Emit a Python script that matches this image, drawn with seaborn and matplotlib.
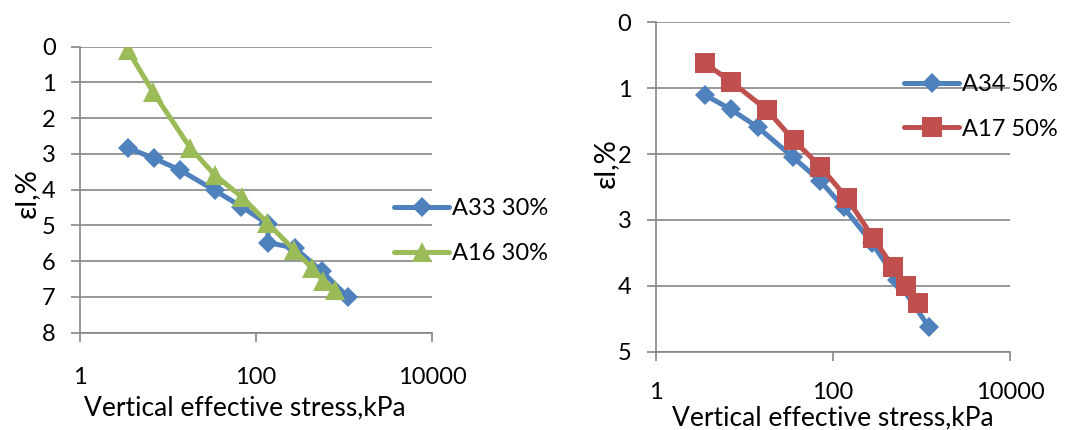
import matplotlib
matplotlib.use("Agg")
import matplotlib.pyplot as plt
import seaborn as sns
import pandas as pd
from matplotlib.ticker import FixedLocator, FixedFormatter, NullLocator

# ---- data ----
x_ticks = [1, 100, 10000]
x_tick_labels = ["1", "100", "10000"]

left_yticks = [0, 1, 2, 3, 4, 5, 6, 7, 8]
right_yticks = [0, 1, 2, 3, 4, 5]

a33_x = [3.5, 6.9, 13.7, 34, 68, 138, 136, 277, 558, 1120]
a33_y = [2.83, 3.12, 3.45, 4.02, 4.47, 4.97, 5.48, 5.63, 6.28, 7.01]
a16_x = [3.5, 6.8, 17.8, 34, 69, 135, 272, 430, 582, 790]
a16_y = [0.10, 1.28, 2.82, 3.59, 4.20, 4.93, 5.69, 6.18, 6.55, 6.80]

a34_x = [3.56, 7.0, 14.1, 35.5, 72, 132, 275, 525, 1200]
a34_y = [1.10, 1.32, 1.59, 2.05, 2.41, 2.81, 3.35, 3.91, 4.62]
a17_x = [3.56, 7.1, 18, 36, 72, 144, 286, 473, 668, 919]
a17_y = [0.62, 0.90, 1.33, 1.79, 2.19, 2.67, 3.28, 3.71, 4.01, 4.26]

x_label = "Vertical effective stress,kPa"
y_label = "\u03b5l,%"

BLUE = "#4F81BD"
GREEN = "#9BBB59"
RED = "#C0504D"
GRID = "#868686"

sns.set_theme(style="white")
plt.rcParams["font.family"] = ["Lato", "DejaVu Sans"]
FS = 17
FS_LAB = 19
FS_YLAB = 21

fig = plt.figure(figsize=(10.66, 4.30), dpi=100)
W, H = 1066, 430


def ax_rect(x0, x1, ytop, ybot):
    return [x0 / W, 1 - ybot / H, (x1 - x0) / W, (ybot - ytop) / H]


ax1 = fig.add_axes(ax_rect(80, 432, 46.7, 332.7))
ax2 = fig.add_axes(ax_rect(655.7, 1010.3, 22.3, 351.7))


def draw(ax, x, y, color, marker, ms, label):
    df = pd.DataFrame({"x": x, "y": y})
    sns.lineplot(data=df, x="x", y="y", ax=ax, color=color, marker=marker,
                 markersize=ms, linewidth=3.6, markeredgewidth=0,
                 estimator=None, sort=False, label=label,
                 solid_capstyle="round", solid_joinstyle="round")


draw(ax1, a33_x, a33_y, BLUE, "D", 9.7, "A33 30%")
draw(ax1, a16_x, a16_y, GREEN, "^", 14, "A16 30%")
draw(ax2, a34_x, a34_y, BLUE, "D", 9.7, "A34 50%")
draw(ax2, a17_x, a17_y, RED, "s", 14, "A17 50%")


def style(ax, yticks, ymax, xlab_pos, ylab_pos, xpad):
    ax.set_xscale("log")
    ax.set_xlim(1, 10000)
    ax.set_ylim(ymax, 0)
    ax.xaxis.set_major_locator(FixedLocator(x_ticks))
    ax.xaxis.set_major_formatter(FixedFormatter(x_tick_labels))
    ax.xaxis.set_minor_locator(NullLocator())
    ax.yaxis.set_major_locator(FixedLocator(yticks))
    ax.set_yticklabels([str(v) for v in yticks])
    ax.grid(axis="y", color=GRID, linewidth=1.2)
    ax.grid(axis="x", visible=False)
    ax.set_axisbelow(True)
    for s in ["top", "right"]:
        ax.spines[s].set_visible(False)
    for s in ["left", "bottom"]:
        ax.spines[s].set_color(GRID)
        ax.spines[s].set_linewidth(1.2)
    ax.tick_params(axis="both", which="major", direction="out", length=6.5,
                   width=1.2, color=GRID, labelsize=FS, labelcolor="black")
    ax.tick_params(axis="x", pad=xpad, bottom=True)
    ax.tick_params(axis="y", pad=11, left=True)
    ax.set_xlabel(x_label, fontsize=FS_LAB, color="black", va="center")
    ax.set_ylabel(y_label, fontsize=FS_YLAB, color="black", va="center")
    ax.xaxis.set_label_coords(*xlab_pos)
    ax.yaxis.set_label_coords(*ylab_pos)


style(ax1, left_yticks, 8, (0.469, -0.263), (-0.150, 0.488), 18)
style(ax2, right_yticks, 5, (0.50, -0.201), (-0.140, 0.573), 15)

leg_kw = dict(frameon=False, fontsize=FS, handlelength=2.33, handletextpad=0.13,
              borderpad=0, borderaxespad=0, labelspacing=1.0, loc="center left",
              bbox_transform=fig.transFigure)
l1 = ax1.legend(bbox_to_anchor=(394 / W, 1 - 231 / H), **leg_kw)
l2 = ax2.legend(bbox_to_anchor=(904 / W, 1 - 106.7 / H), **leg_kw)
for leg in (l1, l2):
    for t in leg.get_texts():
        t.set_color("black")

fig.savefig("out.png", dpi=100)
